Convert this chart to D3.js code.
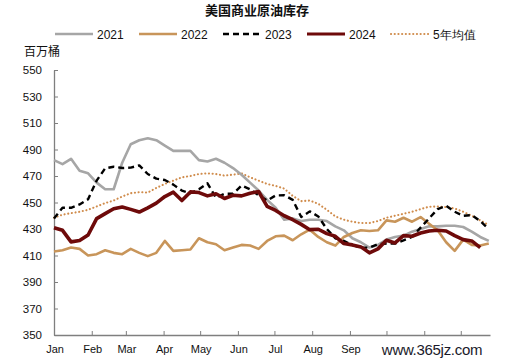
<!DOCTYPE html>
<html><head><meta charset="utf-8">
<script src="https://cdn.jsdelivr.net/npm/d3@7/dist/d3.min.js"></script>
<style>
html,body{margin:0;padding:0;background:#fff;}
svg{display:block;}
text{font-family:"Liberation Sans",Arial,sans-serif;}
.cjk{font-family:"Noto Sans CJK SC","Liberation Sans",sans-serif;}
</style></head>
<body><svg id="c" width="505" height="364"></svg>
<script>
// ---- data (weekly, million barrels) ----
const months = ["Jan","Feb","Mar","Apr","May","Jun","Jul","Aug","Sep","Oct","Nov","Dec"];
const monthStartDays = [0,31,59,90,120,151,181,212,243,273,304,334];
const visibleMonthLabels = 9; // Oct–Dec labels are hidden under the watermark in the reference
const yTicks = [350,370,390,410,430,450,470,490,510,530,550];
const seriesNames = ["2021","2022","2023","2024","5年均值"];

const y2021 = [482,479,483,474,472,465,460,460,480,494,497,498.5,497,493,489,489,489,482,481,483,480,476,471,465,459,452,446,437,438,436,437,437,436,432,429,423,420,416,418,422,424,425,428,430,432,432,432.5,432.5,431.5,428,424,421];
const y2022 = [413,414,416,415,410,411,414,412,411,415,412,409.5,412,421,413.5,414,414.5,423,420,418.5,414,416,418,417.5,415,421,424.5,425,421.5,426,429.5,424,420,417.5,424,427,429,428.5,429,436.5,435.5,438.5,435.5,439,434,429,420,413.5,422,418,417.5,419];
const y2023 = [438,446,446,448.5,452.5,466.5,475.8,477,476,476.3,478,471.5,468,467,463.5,459,457,460,464.5,453.6,456.6,456.6,462.8,460,455.5,451.5,455.3,455.5,452,439,443.3,439.5,430,423,421,418,415.8,416,418.5,419,419,421.5,424,431,438,445,447.5,443,440,440.5,436,430];
const y2024 = [431,429,420.3,421.3,425.5,437.8,441.6,445.3,446.6,444.8,442.8,446,449.5,454.5,457.8,451.5,458,457.5,455,456.6,453,455.5,455,457,458.3,447,444,440,437,433.5,429.5,429.8,426.5,424.5,419,418,416.5,412,415,421.5,419.5,425,424.5,427,428.5,429,428.5,425,422,421,416];
const y5yr = [438.5,440.8,442,443,444.5,447,449.5,451.5,454.5,457,457.8,457.5,461,464,466.5,469,470,471.5,472,471.5,470.3,471,472,469,466.5,464,462.5,460.5,455,451,451.5,449,444.5,439.5,437,435.5,434.5,434.5,436,438.5,440,441.5,443,445,446.8,447,446.5,445.5,443,440,436.5,433];

const styles = {
  "2021":   {color:"#a6a6a6", width:2.6, dash:null, cap:"butt"},
  "2022":   {color:"#c8955a", width:2.6, dash:null, cap:"butt"},
  "2023":   {color:"#000000", width:2.4, dash:"6,4", cap:"butt"},
  "2024":   {color:"#6e0a0a", width:3.6, dash:null, cap:"butt"},
  "5年均值": {color:"#d08c4c", width:2.1, dash:"0.1,3.6", cap:"round"}
};
const dataMap = {"2021":y2021,"2022":y2022,"2023":y2023,"2024":y2024,"5年均值":y5yr};

const svg = d3.select("#c");
const x = d3.scaleLinear().domain([0,358]).range([54,490]);
const y = d3.scaleLinear().domain([350,550]).range([335,70]);

// title
svg.append("text").attr("class","cjk").attr("x",257).attr("y",15).attr("text-anchor","middle")
  .attr("font-size",13).attr("font-weight","bold").attr("fill","#111").text("美国商业原油库存");

// legend
const legX = [55,139,223,307,391];
seriesNames.forEach((n,i)=>{
  const s = styles[n];
  const g = svg.append("g");
  g.append("line").attr("x1",legX[i]).attr("x2",legX[i]+38).attr("y1",34).attr("y2",34)
    .attr("stroke",s.color).attr("stroke-width",Math.min(s.width,3)).attr("stroke-dasharray",s.dash)
    .attr("stroke-linecap",s.cap);
  g.append("text").attr("class", n.length>4?"cjk":null).attr("x",legX[i]+42).attr("y",38.5)
    .attr("font-size",12).attr("fill","#111").text(n);
});

// unit label
svg.append("text").attr("class","cjk").attr("x",24).attr("y",56).attr("font-size",12).attr("fill","#111").text("百万桶");

// y axis
const yAxis = d3.axisLeft(y).tickValues(yTicks).tickSizeInner(-4).tickSizeOuter(0).tickPadding(12);
const gy = svg.append("g").attr("transform","translate(54,0)").call(yAxis);
gy.select(".domain").attr("stroke","#7f7f7f").attr("stroke-width",1.3);
gy.selectAll(".tick line").attr("stroke","#7f7f7f");
gy.selectAll(".tick text").attr("font-size",11.5).attr("fill","#111").attr("font-family","Liberation Sans, Arial, sans-serif");

// x axis
const xAxis = d3.axisBottom(x).tickValues(monthStartDays.slice(1)).tickSizeInner(-4).tickSizeOuter(0).tickFormat("");
const gx = svg.append("g").attr("transform","translate(0,335)").call(xAxis);
gx.select(".domain").attr("stroke","#7f7f7f").attr("stroke-width",1.3);
gx.selectAll(".tick line").attr("stroke","#7f7f7f");
svg.append("g").selectAll("text").data(months.slice(0,visibleMonthLabels)).join("text")
  .attr("x",(d,i)=>x(monthStartDays[i])+1).attr("y",353).attr("text-anchor","middle")
  .attr("font-size",11).attr("fill","#111").text(d=>d);

// lines
const line = d3.line().x((d,i)=>x(i*7)).y(d=>y(d));
const order = ["5年均值","2021","2022","2023","2024"];
order.forEach(n=>{
  const s = styles[n];
  svg.append("path").datum(dataMap[n]).attr("d",line).attr("fill","none")
    .attr("stroke",s.color).attr("stroke-width",s.width).attr("stroke-dasharray",s.dash)
    .attr("stroke-linecap",s.cap).attr("stroke-linejoin","round");
});

// watermark
svg.append("text").attr("x",432).attr("y",355).attr("text-anchor","middle")
  .attr("font-family","DejaVu Serif, serif").attr("font-size",15).attr("fill","#1a1a2a")
  .attr("letter-spacing",-0.3).text("www.365jz.com");
</script></body></html>
